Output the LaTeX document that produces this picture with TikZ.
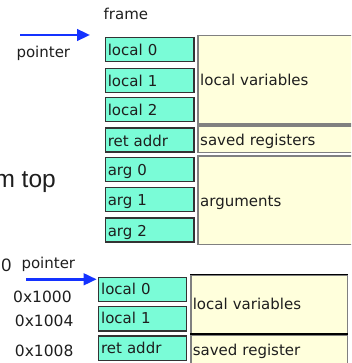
\documentclass[tikz,border=0pt]{standalone}
\usepackage{fontspec}
\setmainfont{DejaVu Sans}
\newfontfamily\arialfont{Liberation Sans}
\usetikzlibrary{arrows.meta}
\definecolor{boxgreen}{RGB}{122,252,215}
\definecolor{boxyellow}{RGB}{255,255,220}
\definecolor{ptrblue}{RGB}{20,50,255}
\definecolor{txt}{RGB}{30,30,30}
\definecolor{ygray}{RGB}{128,128,128}
\begin{document}
\begin{tikzpicture}[x=1pt,y=-1pt,
  every node/.style={text=txt},
  lbl/.style={font=\fontsize{15}{18}\selectfont, inner sep=0pt},
  addr/.style={font=\fontsize{15.5}{18}\selectfont, inner sep=0pt, anchor=base west},
  gbox/.style={draw=black!80, line width=1.3pt, fill=boxgreen, anchor=west,
    minimum height=24.2pt, text width=83.7pt, inner xsep=2.5pt, inner ysep=0pt,
    align=left, text height=12.5pt, text depth=0pt, font=\fontsize{15}{18}\selectfont},
  gboxlow/.style={gbox, text width=83.1pt, text height=10pt},
  ybox/.style={draw=ygray, line width=1.5pt, fill=boxyellow, anchor=west,
    text width=170pt, inner xsep=2pt, inner ysep=0pt, align=left,
    text height=12.5pt, text depth=0pt, font=\fontsize{15}{18}\selectfont},
  yboxlow/.style={ybox, text width=152.9pt, text height=11.6pt},
  ptr/.style={draw=ptrblue, line width=2.7pt, -{Triangle[length=13pt,width=11.5pt]}}
]
\useasboundingbox (0,0) rectangle (351,363);
\clip (0,0) rectangle (351,363);

% ---------- top frame ----------
\node[lbl, anchor=base west] (frame) at (103.5,19.3) {frame};
\node[lbl, anchor=base west] (ptrtop) at (16.3,57.3) {pointer};
\coordinate (a1s) at (20,35);
\coordinate (a1e) at (90,35);
\draw[ptr] (a1s) -- (a1e);

\node[gbox] (t0) at (104.65,49.35) {local 0};
\node[gbox] (t1) at (104.65,80.5) {local 1};
\node[gbox] (t2) at (104.65,109.65) {local 2};
\node[gbox] (t3) at (104.65,140) {ret addr};
\node[gbox] (t4) at (104.65,169.7) {arg 0};
\node[gbox] (t5) at (104.65,199.7) {arg 1};
\node[gbox] (t6) at (104.65,230) {arg 2};

\node[ybox, minimum height=88.5pt] (y1) at (197.45,79.7) {local variables};
\node[ybox, minimum height=26.5pt] (y2) at (197.45,139.3) {saved registers};
\node[ybox, minimum height=88.2pt] (y3) at (197.45,200.15) {arguments};

\node[font=\arialfont\fontsize{24.5}{28}\selectfont, inner sep=0pt, anchor=base east] (mtop) at (56,187.7) {m top};

% ---------- bottom frame ----------
\node[font=\arialfont\fontsize{18}{20}\selectfont, inner sep=0pt, anchor=base east] (zero) at (11.5,271) {0};
\node[lbl, anchor=base west] (ptrlow) at (21.3,268.3) {pointer};
\coordinate (a2s) at (26,279.3);
\coordinate (a2e) at (96.7,279.3);
\draw[ptr] (a2s) -- (a2e);

\node[addr] (ad0) at (13,302.3) {0x1000};
\node[addr] (ad1) at (14.7,326) {0x1004};
\node[addr] (ad2) at (14.7,356) {0x1008};

\node[gboxlow] (b0) at (97.95,289.35) {local 0};
\node[gboxlow] (b1) at (97.95,318.85) {local 1};
\node[gboxlow] (b2) at (97.95,348.15) {ret addr};

\node[yboxlow, minimum height=58.2pt] (y4) at (190.05,304.15) {local variables};
\node[yboxlow, minimum height=30.5pt] (y5) at (190.05,350) {saved register};
\draw[black, line width=1.5pt] (y4.north west) -- (y4.north east);
\draw[black, line width=1.5pt] (y4.south west) -- (y4.south east);
\end{tikzpicture}
\end{document}
